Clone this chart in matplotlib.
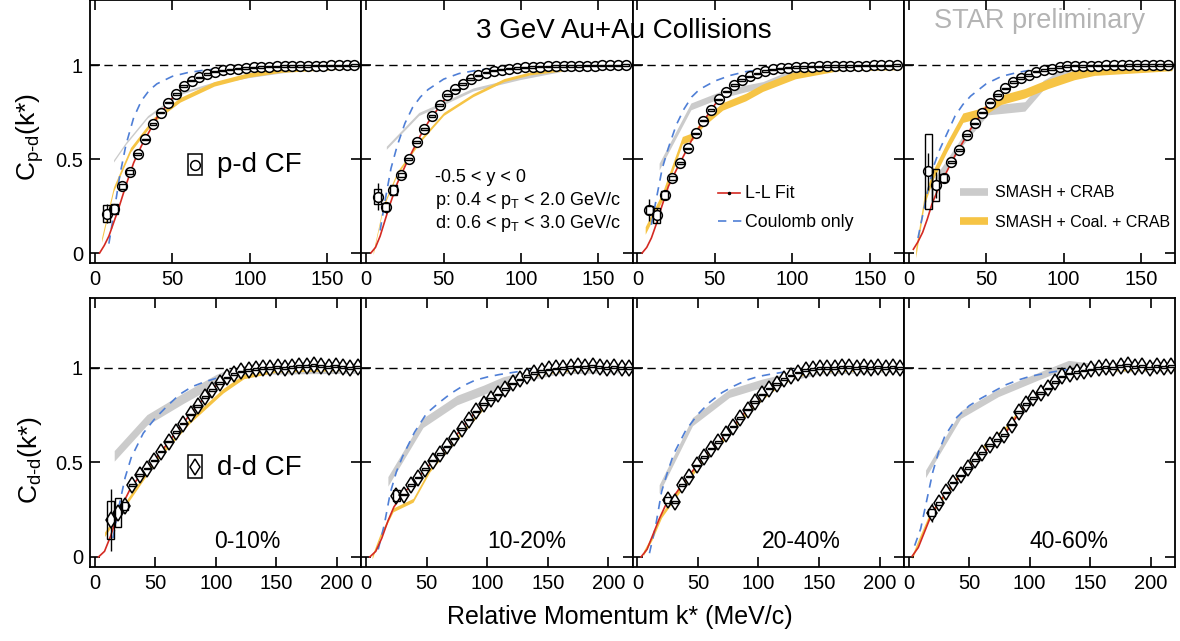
import numpy as np
import matplotlib.pyplot as plt

plt.rcParams['font.family'] = ['Liberation Sans', 'DejaVu Sans']
plt.rcParams['mathtext.fontset'] = 'custom'
plt.rcParams['mathtext.rm'] = 'Liberation Sans'
plt.rcParams['mathtext.it'] = 'Liberation Sans:italic'

nan = np.nan
centralities = ['0-10%', '10-20%', '20-40%', '40-60%']

# ---------------- p-d correlation functions ----------------
pd_k = np.arange(7.5, 170, 5)
pd_010 = [0.21, 0.234, 0.354, 0.43, 0.527, 0.605, 0.687, 0.747, 0.80, 0.846, 0.888, 0.917, 0.934, 0.952,
          0.965, 0.972, 0.977, 0.981, 0.985, 0.988, 0.99, 0.992, 0.993, 0.994, 0.995, 0.996, 0.996, 0.997,
          0.997, 0.998, 0.998, 0.998, 0.999]
pd_1020 = [0.30, 0.244, 0.335, 0.416, 0.50, 0.59, 0.66, 0.728, 0.788, 0.84, 0.87, 0.90, 0.925, 0.945,
           0.96, 0.97, 0.976, 0.981, 0.985, 0.988, 0.99, 0.992, 0.993, 0.994, 0.995, 0.996, 0.996, 0.997,
           0.997, 0.998, 0.998, 0.998, 0.999]
pd_2040 = [0.23, 0.20, 0.31, 0.40, 0.48, 0.557, 0.637, 0.704, 0.761, 0.818, 0.858, 0.894, 0.92, 0.94,
           0.956, 0.968, 0.977, 0.982, 0.986, 0.989, 0.99, 0.992, 0.993, 0.994, 0.995, 0.996, 0.996, 0.997,
           0.997, 0.998, 0.998, 0.998, 0.999]
pd_4060 = [nan, 0.434, 0.363, 0.40, 0.483, 0.549, 0.628, 0.69, 0.747, 0.80, 0.84, 0.876, 0.91, 0.93,
           0.947, 0.965, 0.973, 0.98, 0.99, 0.995, 0.997, 0.996, 0.997, 0.997, 0.998, 0.998, 0.998, 0.999,
           0.999, 0.999, 0.999, 0.999, 1.0]
# systematic / statistical errors of the lowest bins (the rest are tiny)
pd_sys_lo = [[0.045, 0.025, 0.015, 0.01], [0.04, 0.02, 0.025, 0.01],
             [0.02, 0.04, 0.02, 0.01], [0.0, 0.2, 0.085, 0.02]]
pd_stat_lo = [[0.05, 0.02, 0.0, 0.0], [0.07, 0.03, 0.0, 0.0],
              [0.06, 0.04, 0.0, 0.0], [0.0, 0.1, 0.07, 0.0]]

# Lednicky-Lyuboshitz fit
ll_k_top = [3, 6, 9, 12, 15, 20, 25, 30, 35, 40, 50, 60, 70, 80, 90, 100, 120, 140, 170]
ll_pd_010 = [0.0, 0.04, 0.09, 0.16, 0.23, 0.36, 0.48, 0.57, 0.645, 0.72, 0.825, 0.90, 0.945, 0.97, 0.98,
             0.986, 0.993, 0.997, 0.999]
ll_pd_1020 = [0.0, 0.03, 0.09, 0.17, 0.25, 0.37, 0.46, 0.545, 0.625, 0.695, 0.81, 0.885, 0.935, 0.965,
              0.978, 0.985, 0.993, 0.997, 0.999]
ll_pd_2040 = [0.0, 0.03, 0.08, 0.15, 0.23, 0.355, 0.44, 0.52, 0.60, 0.67, 0.79, 0.875, 0.93, 0.96, 0.975,
              0.985, 0.993, 0.997, 0.999]
ll_pd_4060 = [0.02, 0.06, 0.11, 0.18, 0.26, 0.36, 0.44, 0.52, 0.59, 0.66, 0.775, 0.86, 0.92, 0.955, 0.975,
              0.99, 0.997, 0.999, 1.0]

# Coulomb only
cb_k_top = [6, 9, 12, 16, 20, 25, 30, 35, 40, 50, 60, 70, 80, 90, 100, 120, 170]
cb_pd_010 = [nan, 0.05, 0.2, 0.41, 0.575, 0.72, 0.81, 0.865, 0.9, 0.94, 0.96, 0.972, 0.98, 0.986, 0.99, 0.995, 1.0]
cb_pd_1020 = [nan, 0.12, 0.27, 0.45, 0.57, 0.69, 0.775, 0.83, 0.87, 0.925, 0.955, 0.97, 0.98, 0.986, 0.99, 0.995, 1.0]
cb_pd_2040 = [nan, 0.15, 0.28, 0.45, 0.56, 0.68, 0.765, 0.83, 0.87, 0.915, 0.945, 0.965, 0.975, 0.985, 0.99, 0.995, 1.0]
cb_pd_4060 = [0.08, 0.2, 0.32, 0.46, 0.55, 0.64, 0.73, 0.79, 0.835, 0.9, 0.94, 0.96, 0.975, 0.985, 0.99, 0.995, 1.0]

# SMASH + CRAB
sc_k_pd_010 = [12, 20, 34, 55, 77, 100, 130, 170]
sc_pd_010 = [0.49, 0.585, 0.725, 0.85, 0.905, 0.94, 0.975, 0.995]
sc_k_pd_1020 = [13, 20, 34, 52, 69, 99, 130, 170]
sc_pd_1020 = [0.56, 0.62, 0.74, 0.805, 0.87, 0.93, 0.98, 0.995]
sc_k_pd_2040 = [14, 34.5, 53, 70, 81, 102, 130, 170]
sc_pd_2040 = [0.46, 0.78, 0.84, 0.876, 0.894, 0.965, 0.99, 0.995]
sc_k_pd_4060 = [17, 35, 51, 75, 87, 103, 130, 170]
sc_pd_4060 = [0.38, 0.60, 0.76, 0.78, 0.894, 0.97, 0.995, 0.998]

# SMASH + Coal. + CRAB
co_k_pd_010 = [4.3, 12, 23, 38, 55, 77, 99, 120, 160, 170]
co_pd_010 = [0.07, 0.34, 0.55, 0.71, 0.815, 0.90, 0.947, 0.973, 0.99, 0.992]
co_k_pd_1020 = [4.5, 11, 20, 35, 50, 69, 89, 106, 140, 170]
co_pd_1020 = [0.0, 0.25, 0.425, 0.60, 0.74, 0.84, 0.92, 0.956, 0.99, 0.995]
co_k_pd_2040 = [5, 16, 29, 35.5, 42, 55, 70, 81, 102, 130, 170]
co_pd_2040 = [0.12, 0.30, 0.60, 0.62, 0.69, 0.78, 0.83, 0.88, 0.947, 0.99, 0.995]
co_k_pd_4060 = [4.5, 10, 16, 25, 35, 46.5, 59.5, 75, 90, 107, 120, 160, 170]
co_pd_4060 = [0.0, 0.28, 0.42, 0.57, 0.72, 0.745, 0.815, 0.85, 0.90, 0.947, 0.97, 0.99, 0.995]

# ---------------- d-d correlation functions ----------------
dd_k = np.arange(13, 220, 6)
dd_010 = [0.195, 0.235, 0.27, 0.38, 0.435, 0.468, 0.51, 0.557, 0.61, 0.66, 0.705, 0.755, 0.80, 0.845,
          0.882, 0.92, 0.95, 0.967, 0.982, 0.99, 0.995, 1.0, 1.0, 1.005, 1.0, 1.005, 1.01, 1.01, 1.015,
          1.01, 1.005, 1.01, 1.005, 1.0, 1.005]
dd_1020 = [nan, nan, 0.325, 0.33, 0.38, 0.42, 0.465, 0.51, 0.545, 0.585, 0.627, 0.677, 0.727, 0.77,
           0.808, 0.835, 0.86, 0.888, 0.918, 0.94, 0.957, 0.972, 0.985, 0.993, 0.998, 1.0, 1.005, 1.008,
           1.005, 1.01, 1.005, 1.0, 1.005, 1.0, 1.0]
dd_2040 = [nan, nan, 0.30, 0.29, 0.38, 0.425, 0.485, 0.53, 0.573, 0.607, 0.648, 0.69, 0.735, 0.78,
           0.82, 0.86, 0.89, 0.915, 0.942, 0.96, 0.975, 0.99, 0.995, 1.0, 1.0, 1.0, 1.005, 1.005, 1.0,
           1.005, 1.0, 1.005, 1.0, 1.005, 1.0]
dd_4060 = [nan, 0.235, 0.283, 0.342, 0.393, 0.432, 0.47, 0.512, 0.55, 0.593, 0.618, 0.645, 0.70, 0.767,
           0.81, 0.84, 0.868, 0.892, 0.925, 0.956, 0.97, 0.978, 0.986, 0.993, 1.0, 1.005, 1.0, 1.01, 1.015,
           1.005, 1.01, 1.0, 1.01, 1.005, 1.01]
dd_sys_lo = [[0.1, 0.075, 0.02], [0.0, 0.0, 0.03], [0.0, 0.0, 0.015], [0.0, 0.02, 0.01]]
dd_stat_lo = [[0.165, 0.04, 0.02], [0.0, 0.0, 0.02], [0.0, 0.0, 0.015], [0.0, 0.05, 0.02]]

ll_k_bot = [3, 8, 13, 18, 23, 30, 40, 50, 60, 70, 80, 90, 100, 110, 120, 130, 140, 150, 170, 200, 220]
ll_dd_010 = [0.0, 0.03, 0.11, 0.21, 0.28, 0.37, 0.45, 0.52, 0.60, 0.685, 0.765, 0.84, 0.905, 0.953, 0.978,
             0.99, 0.997, 1.0, 1.003, 1.005, 1.005]
ll_dd_1020 = [0.0, 0.03, 0.10, 0.19, 0.265, 0.33, 0.40, 0.47, 0.54, 0.605, 0.69, 0.765, 0.82, 0.865, 0.913,
              0.95, 0.975, 0.99, 1.0, 1.003, 1.003]
ll_dd_2040 = [0.0, 0.04, 0.12, 0.20, 0.27, 0.32, 0.41, 0.49, 0.565, 0.625, 0.70, 0.773, 0.835, 0.893, 0.935,
              0.967, 0.988, 0.997, 1.0, 1.002, 1.002]
ll_dd_4060 = [0.005, 0.05, 0.13, 0.21, 0.27, 0.33, 0.41, 0.475, 0.54, 0.60, 0.655, 0.75, 0.825, 0.875, 0.92,
              0.96, 0.978, 0.99, 1.0, 1.005, 1.005]

cb_k_bot = [5, 10, 15, 20, 25, 30, 40, 50, 60, 70, 80, 90, 100, 110, 120, 130, 150, 220]
cb_dd_010 = [nan, nan, 0.10, 0.27, 0.42, 0.525, 0.655, 0.735, 0.80, 0.86, 0.90, 0.925, 0.945, 0.963, 0.98,
             0.99, 1.0, 1.0]
cb_dd_1020 = [nan, 0.04, 0.17, 0.34, 0.45, 0.53, 0.66, 0.76, 0.815, 0.865, 0.905, 0.935, 0.952, 0.965, 0.975,
              0.985, 0.995, 1.0]
cb_dd_2040 = [nan, 0.02, 0.16, 0.345, 0.45, 0.545, 0.67, 0.755, 0.82, 0.87, 0.905, 0.935, 0.955, 0.967, 0.977,
              0.987, 0.995, 1.0]
cb_dd_4060 = [0.06, 0.15, 0.30, 0.45, 0.56, 0.64, 0.74, 0.80, 0.84, 0.875, 0.91, 0.935, 0.955, 0.968, 0.98,
              0.99, 1.0, 1.0]

sc_k_dd_010 = [16, 43, 73, 100, 110, 130, 220]
sc_dd_010 = [0.535, 0.725, 0.84, 0.937, 0.965, 0.995, 1.0]
sc_k_dd_1020 = [18, 47, 75, 97, 113, 127, 160, 220]
sc_dd_1020 = [0.40, 0.71, 0.83, 0.884, 0.928, 0.95, 0.995, 1.0]
sc_k_dd_2040 = [18, 45.5, 76, 103, 120, 150, 220]
sc_dd_2040 = [0.36, 0.716, 0.866, 0.919, 0.945, 0.99, 1.0]
sc_k_dd_4060 = [14, 43, 74, 107, 132, 145, 160, 220]
sc_dd_4060 = [0.44, 0.753, 0.868, 0.956, 1.02, 1.01, 1.0, 1.0]

co_k_dd_010 = [8, 23, 51, 78.5, 106, 123, 150, 220]
co_dd_010 = [0.12, 0.26, 0.52, 0.72, 0.88, 0.955, 0.99, 1.0]
co_k_dd_1020 = [5, 11.3, 22.3, 38.8, 52.6, 69, 85.7, 102, 113, 129.5, 150, 180, 220]
co_dd_1020 = [0.0, 0.107, 0.249, 0.30, 0.46, 0.584, 0.707, 0.83, 0.90, 0.952, 0.98, 1.0, 1.0]
co_k_dd_2040 = [5, 12, 20, 30, 40, 50, 60, 70, 80, 90, 100, 110, 120, 130, 140, 150, 220]
co_dd_2040 = [0.02, 0.1, 0.22, 0.31, 0.40, 0.48, 0.555, 0.615, 0.69, 0.76, 0.825, 0.88, 0.925, 0.958, 0.98,
              0.99, 1.0]
co_k_dd_4060 = [3, 8, 18, 30, 40, 50, 60, 70, 80, 90, 100, 110, 120, 130, 140, 150, 220]
co_dd_4060 = [0.0, 0.08, 0.23, 0.33, 0.42, 0.49, 0.57, 0.625, 0.68, 0.76, 0.835, 0.885, 0.93, 0.965, 0.985,
              0.995, 1.0]

# ---------------- styling ----------------
RED = '#d42a22'
BLUE = '#4f7fd6'
GRAY = '#cbcbcb'
GOLD = '#f6c445'

W, H = 1180, 641
fig = plt.figure(figsize=(W / 100, H / 100), dpi=100)
col_left = [90, 361.25, 632.5, 903.75]
col_w = 271.25


def pad(vals, n, fill):
    vals = list(vals)
    return np.array(vals + [fill] * (n - len(vals)))


def style_axes(ax, xlim, ylim, xticks, show_y):
    ax.set_xlim(*xlim)
    ax.set_ylim(*ylim)
    ax.set_xticks(xticks)
    ax.set_yticks([0, 0.5, 1])
    ax.set_yticklabels(['0', '0.5', '1'])
    ax.tick_params(direction='in', length=7, width=1.2, top=True, right=True,
                   labelsize=14.5, pad=5, labelleft=show_y)
    for s in ax.spines.values():
        s.set_linewidth(1.3)
    ax.axhline(1.0, color='black', lw=1.0, dashes=(6, 4), zorder=1.5)


def draw_models(ax, ll, cb, sc, co, sc_hw, co_hw):
    sk, sv = np.array(sc[0]), np.array(sc[1])
    ax.fill_between(sk, sv - sc_hw, sv + sc_hw, color=GRAY, lw=0, zorder=1)
    ck, cv = np.array(co[0]), np.array(co[1])
    ax.fill_between(ck, cv - co_hw, cv + co_hw, color=GOLD, lw=0, zorder=1.2)
    ax.plot(cb[0], cb[1], color=BLUE, lw=1.2, dashes=(5, 4), zorder=2)
    ax.plot(ll[0], ll[1], color=RED, lw=1.2, zorder=3)


def draw_data(ax, k, cf, sys, stat, box_w, marker, ms):
    k = np.asarray(k, dtype=float)
    cf = np.asarray(cf, dtype=float)
    ok = ~np.isnan(cf)
    ax.errorbar(k[ok], cf[ok], yerr=stat[ok], fmt='none', ecolor='black', elinewidth=1.0, zorder=4)
    ax.plot(k[ok], cf[ok], ls='none', marker=marker, ms=ms, mfc='white', mec='black', mew=1.1, zorder=5)
    ax.bar(k[ok], 2 * sys[ok], bottom=cf[ok] - sys[ok], width=box_w, fill=False,
           edgecolor='black', linewidth=1.0, zorder=6)


# top row: p-d
pd_sets = [pd_010, pd_1020, pd_2040, pd_4060]
ll_pd = [ll_pd_010, ll_pd_1020, ll_pd_2040, ll_pd_4060]
cb_pd = [cb_pd_010, cb_pd_1020, cb_pd_2040, cb_pd_4060]
sc_pd = [(sc_k_pd_010, sc_pd_010), (sc_k_pd_1020, sc_pd_1020), (sc_k_pd_2040, sc_pd_2040), (sc_k_pd_4060, sc_pd_4060)]
co_pd = [(co_k_pd_010, co_pd_010), (co_k_pd_1020, co_pd_1020), (co_k_pd_2040, co_pd_2040), (co_k_pd_4060, co_pd_4060)]
sc_hw_top = [0.006, 0.008, 0.018, 0.025]
co_hw_top = [0.012, 0.008, 0.02, 0.025]

top_axes = []
for i in range(4):
    ax = fig.add_axes([col_left[i] / W, 1 - 263 / H, col_w / W, 263 / H])
    style_axes(ax, (-3.2, 172), (-0.053, 1.346), [0, 50, 100, 150], i == 0)
    draw_models(ax, (ll_k_top, ll_pd[i]), (cb_k_top, cb_pd[i]), sc_pd[i], co_pd[i], sc_hw_top[i], co_hw_top[i])
    n = len(pd_k)
    draw_data(ax, pd_k, pd_sets[i], pad(pd_sys_lo[i], n, 0.004), pad(pd_stat_lo[i], n, 0.0),
              4.5, 'o', 7)
    top_axes.append(ax)

# bottom row: d-d
dd_sets = [dd_010, dd_1020, dd_2040, dd_4060]
ll_dd = [ll_dd_010, ll_dd_1020, ll_dd_2040, ll_dd_4060]
cb_dd = [cb_dd_010, cb_dd_1020, cb_dd_2040, cb_dd_4060]
sc_dd = [(sc_k_dd_010, sc_dd_010), (sc_k_dd_1020, sc_dd_1020), (sc_k_dd_2040, sc_dd_2040), (sc_k_dd_4060, sc_dd_4060)]
co_dd = [(co_k_dd_010, co_dd_010), (co_k_dd_1020, co_dd_1020), (co_k_dd_2040, co_dd_2040), (co_k_dd_4060, co_dd_4060)]
sc_hw_bot = [0.028, 0.025, 0.022, 0.02]
co_hw_bot = [0.012, 0.01, 0.012, 0.012]
cent_x = [0.579, 0.611, 0.621, 0.611]

bot_axes = []
for i in range(4):
    ax = fig.add_axes([col_left[i] / W, 1 - 567 / H, col_w / W, 269 / H])
    style_axes(ax, (-4, 220), (-0.053, 1.37), [0, 50, 100, 150, 200], i == 0)
    draw_models(ax, (ll_k_bot, ll_dd[i]), (cb_k_bot, cb_dd[i]), sc_dd[i], co_dd[i], sc_hw_bot[i], co_hw_bot[i])
    n = len(dd_k)
    draw_data(ax, dd_k, dd_sets[i], pad(dd_sys_lo[i], n, 0.004), pad(dd_stat_lo[i], n, 0.0),
              5.5, 'd', 8)
    ax.text(cent_x[i], 0.0706, centralities[i], transform=ax.transAxes, ha='center',
            va='baseline', fontsize=16.5)
    bot_axes.append(ax)

# species markers
ax = top_axes[0]
ax.add_patch(plt.Rectangle((0.361, 0.335), 0.052, 0.079, transform=ax.transAxes,
                           fill=False, ec='black', lw=1.1))
ax.plot([0.387], [0.373], transform=ax.transAxes, marker='o', ms=7, mfc='white', mec='black', mew=1.1)
ax.text(0.468, 0.346, 'p-d CF', transform=ax.transAxes, fontsize=20, va='baseline')

ax = bot_axes[0]
ax.add_patch(plt.Rectangle((0.361, 0.331), 0.052, 0.085, transform=ax.transAxes,
                           fill=False, ec='black', lw=1.1))
ax.plot([0.387], [0.373], transform=ax.transAxes, marker='d', ms=8, mfc='white', mec='black', mew=1.1)
ax.text(0.468, 0.342, 'd-d CF', transform=ax.transAxes, fontsize=20, va='baseline')

# kinematic selection
ax = top_axes[1]
ax.text(0.272, 0.308, '-0.5 < y < 0', transform=ax.transAxes, fontsize=13, va='baseline')
ax.text(0.272, 0.22, r'p: 0.4 < p$_\mathregular{T}$ < 2.0 GeV/c', transform=ax.transAxes,
        fontsize=13, va='baseline')
ax.text(0.272, 0.133, r'd: 0.6 < p$_\mathregular{T}$ < 3.0 GeV/c', transform=ax.transAxes,
        fontsize=13, va='baseline')

# legends
ax = top_axes[2]
ax.plot([0.315, 0.396], [0.267, 0.267], transform=ax.transAxes, color=RED, lw=1.2)
ax.plot([0.355], [0.267], transform=ax.transAxes, marker='o', ms=1.5, color='black')
ax.text(0.415, 0.246, 'L-L Fit', transform=ax.transAxes, fontsize=12.8, va='baseline')
ax.plot([0.315, 0.405], [0.161, 0.161], transform=ax.transAxes, color=BLUE, lw=1.2, dashes=(5, 4))
ax.text(0.415, 0.138, 'Coulomb only', transform=ax.transAxes, fontsize=12.8, va='baseline')

ax = top_axes[3]
ax.plot([0.207, 0.311], [0.271, 0.271], transform=ax.transAxes, color=GRAY, lw=5.5, solid_capstyle='butt')
ax.text(0.336, 0.25, 'SMASH + CRAB', transform=ax.transAxes, fontsize=11.5, va='baseline')
ax.plot([0.207, 0.311], [0.161, 0.161], transform=ax.transAxes, color=GOLD, lw=5.5, solid_capstyle='butt')
ax.text(0.336, 0.136, 'SMASH + Coal. + CRAB', transform=ax.transAxes, fontsize=11.5, va='baseline')

# titles and axis labels
fig.text(624 / W, 1 - 38 / H, '3 GeV Au+Au Collisions', ha='center', va='baseline', fontsize=20)
fig.text(1040 / W, 1 - 28 / H, 'STAR preliminary', ha='center', va='baseline', fontsize=19.5, color='#b4b4b4')
fig.text(620 / W, 1 - 624 / H, 'Relative Momentum k* (MeV/c)', ha='center', va='baseline', fontsize=18)
fig.text(30 / W, 1 - 137 / H, r'C$_{\mathregular{p\text{-}d}}$(k*)', rotation=90, ha='center', va='center', fontsize=19)
fig.text(30 / W, 1 - 460 / H, r'C$_{\mathregular{d\text{-}d}}$(k*)', rotation=90, ha='center', va='center', fontsize=19)

fig.savefig('out.png', dpi=100)
